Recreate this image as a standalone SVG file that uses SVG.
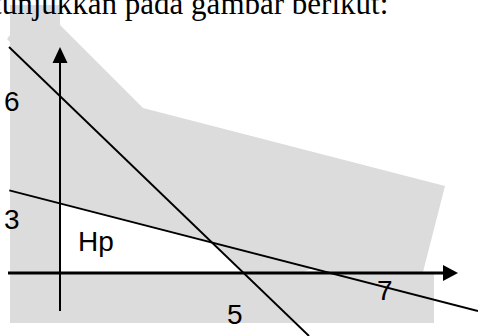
<svg xmlns="http://www.w3.org/2000/svg" width="478" height="336" viewBox="0 0 478 336">
<style>
.region{fill:#dcdcdc;stroke:none}
.hole{fill:#ffffff;stroke:none}
.axis{stroke:#000;fill:none}
.line{stroke:#000;stroke-width:1.9;fill:none}
.head{fill:#000;stroke:none}
.lbl{font-family:"Liberation Sans",Arial,sans-serif;font-size:28px;fill:#000}
.cap{font-family:"Liberation Serif","Times New Roman",serif;font-size:31px;fill:#000}
</style>
<rect width="478" height="336" fill="#ffffff"/>
<g id="shaded">
<polygon class="region" points="10,5 60,5 60,25 143,108 445,186 423,272 434,272 434,323 10,323 10,42 7,39 10,35"/>
</g>
<g id="caption">
<text class="cap" x="-31" y="14">ditunjukkan pada gambar berikut:</text>
</g>
<g id="Hp-region">
<polygon class="hole" points="60,202.5 211.9,241.5 243.6,273 60,273"/>
<polygon class="hole" points="304,271.5 330,271.5 313,268"/>
</g>
<g id="connectors">
<line class="line" x1="9" y1="47" x2="309" y2="336"/>
<line class="line" x1="9.3" y1="190.3" x2="478" y2="311"/>
<line class="axis" stroke-width="2" x1="60" y1="60" x2="60" y2="311"/>
<polygon class="head" points="60,47 52.5,63 67.5,63"/>
<line class="axis" stroke-width="2.8" x1="8" y1="273" x2="446" y2="273"/>
<polygon class="head" points="458,273 443,265 443,281"/>
</g>
<g id="label-6"><text class="lbl" x="4" y="111">6</text></g>
<g id="label-3"><text class="lbl" x="4" y="229">3</text></g>
<g id="label-Hp"><text class="lbl" x="78" y="251">Hp</text></g>
<g id="label-5"><text class="lbl" x="227" y="324">5</text></g>
<g id="label-7"><text class="lbl" x="377" y="300">7</text></g>
</svg>
